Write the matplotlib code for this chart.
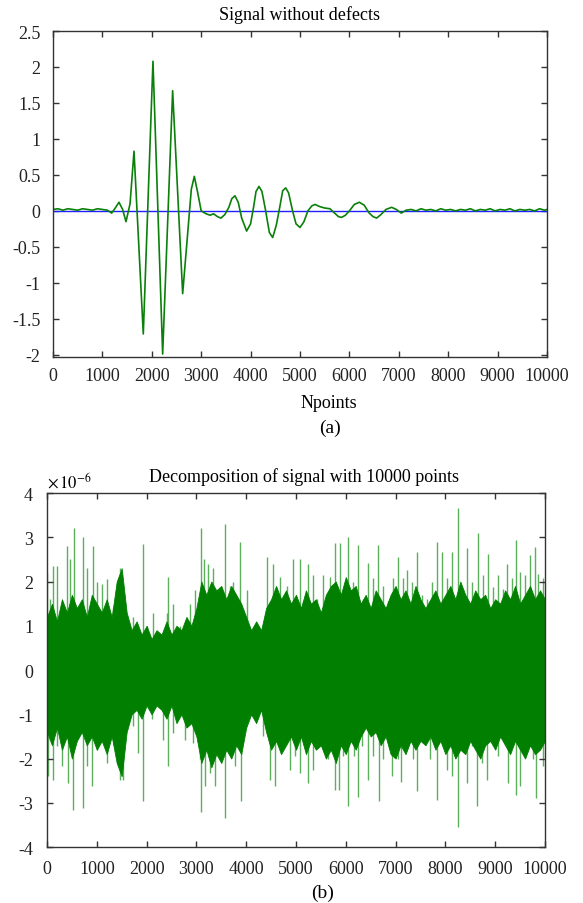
import matplotlib
matplotlib.use('Agg')
import matplotlib.pyplot as plt

plt.rcParams['font.family'] = ['Liberation Serif', 'DejaVu Serif']
plt.rcParams['mathtext.fontset'] = 'stix'
plt.rcParams['axes.unicode_minus'] = False

# (a) signal without defects
sig_x = [0, 100, 200, 300, 400, 500, 600, 700, 800, 900, 1000, 1100, 1188, 1260, 1336,
         1410, 1478, 1560, 1640, 1828, 2024, 2220, 2422, 2625, 2740, 2800, 2861, 2930,
         3000, 3100, 3180, 3250, 3330, 3400, 3480, 3560, 3620, 3684, 3750, 3820, 3920,
         4000, 4060, 4110, 4170, 4230, 4300, 4380, 4447, 4520, 4590, 4650, 4710, 4770,
         4850, 4920, 5000, 5080, 5160, 5240, 5304, 5400, 5500, 5607, 5700, 5780, 5843,
         5920, 6000, 6100, 6200, 6300, 6400, 6480, 6552, 6640, 6740, 6856, 6950, 7050,
         7150, 7250, 7350, 7450, 7550, 7650, 7750, 7850, 7950, 8050, 8150, 8250, 8350,
         8450, 8550, 8650, 8750, 8850, 8950, 9050, 9150, 9250, 9350, 9450, 9550, 9650,
         9750, 9850, 9950, 10000]
sig_y = [0.02, 0.03, 0.01, 0.03, 0.02, 0.01, 0.03, 0.02, 0.01, 0.03, 0.02, 0.01, -0.03, 0.04, 0.12,
         0.02, -0.15, 0.10, 0.83, -1.71, 2.08, -1.99, 1.67, -1.15, -0.20, 0.30, 0.48, 0.25,
         0.00, -0.04, -0.06, -0.04, -0.08, -0.10, -0.05, 0.05, 0.17, 0.21, 0.12, -0.10, -0.28,
         -0.18, 0.05, 0.27, 0.34, 0.27, 0.02, -0.30, -0.37, -0.20, 0.05, 0.28, 0.32, 0.25,
         0.00, -0.18, -0.23, -0.15, 0.00, 0.07, 0.09, 0.06, 0.04, 0.03, -0.03, -0.08, -0.09,
         -0.06, 0.00, 0.09, 0.12, 0.08, -0.03, -0.08, -0.10, -0.05, 0.02, 0.05, 0.02, -0.03,
         0.01, 0.02, 0.00, 0.03, 0.01, 0.02, 0.00, 0.03, 0.01, 0.02, 0.00, 0.02, 0.01,
         0.03, 0.00, 0.02, 0.01, 0.03, 0.00, 0.02, 0.01, 0.03, 0.00, 0.02, 0.01, 0.02,
         0.00, 0.03, 0.01, 0.02]

# (b) decomposition, values in units of 1e-6
core_x = list(range(0, 10001, 100))
core_hi = [1.2, 1.5, 1.1, 1.6, 1.3, 1.7, 1.4, 1.6, 1.2, 1.7,
           1.5, 1.3, 1.6, 1.2, 2.0, 2.3, 1.3, 0.9, 1.1, 0.8,
           1.0, 0.7, 0.9, 0.8, 1.1, 0.8, 1.0, 0.9, 1.2, 1.0,
           1.4, 2.0, 1.7, 2.0, 1.8, 1.9, 1.6, 1.9, 1.7, 1.5,
           1.2, 0.9, 1.1, 0.9, 1.4, 1.6, 1.9, 1.6, 1.8, 1.5,
           1.7, 1.4, 1.8, 1.5, 1.6, 1.3, 1.7, 1.9, 2.0, 1.7,
           2.1, 1.8, 1.9, 1.5, 1.7, 1.4, 1.8, 1.6, 1.4, 1.7,
           1.9, 1.6, 1.8, 1.5, 1.9, 1.6, 1.4, 1.6, 1.8, 1.5,
           1.7, 1.9, 1.6, 2.0, 1.7, 1.5, 1.8, 1.6, 1.7, 1.4,
           1.6, 1.5, 1.8, 1.6, 1.9, 1.5, 1.7, 1.9, 1.6, 1.8, 1.6]
core_lo = [-1.4, -1.7, -1.3, -1.8, -1.5, -2.0, -1.6, -1.4, -1.7, -1.5,
           -1.8, -1.6, -1.9, -1.5, -2.1, -2.4, -1.4, -1.0, -0.9, -1.1,
           -0.8, -1.0, -0.8, -0.9, -1.1, -0.8, -1.2, -1.0, -1.3, -1.2,
           -1.5, -2.1, -1.8, -2.2, -1.9, -2.1, -1.8, -2.0, -1.7, -1.9,
           -1.3, -1.0, -1.2, -0.9, -1.4, -1.8, -1.6, -1.9, -1.7, -1.5,
           -1.8, -1.5, -1.9, -1.6, -1.8, -1.7, -2.0, -1.8, -2.1, -1.7,
           -1.9, -1.6, -1.8, -1.5, -1.3, -1.5, -1.4, -1.7, -1.5, -1.9,
           -2.0, -1.7, -1.9, -1.6, -1.8, -1.6, -1.7, -1.5, -1.8, -1.6,
           -1.9, -1.7, -2.0, -1.8, -1.9, -1.6, -1.8, -2.0, -1.7, -1.6,
           -1.8, -1.5, -1.7, -1.9, -1.6, -1.8, -2.0, -1.7, -1.9, -1.8, -1.6]

up_x = [10, 60, 127, 207, 395, 462, 542, 629, 730, 810, 917, 997, 1098, 1198, 1332, 1466,
        1633, 1734, 1921, 2001, 2135, 2269, 2403, 2436, 2537, 2671, 2805, 2872, 2972, 3092,
        3153, 3240, 3340, 3407, 3574, 3675, 3742, 3876, 4010, 4143, 4277, 4411, 4545, 4679,
        4812, 4946, 5080, 5147, 5248, 5348, 5415, 5549, 5683, 5783, 5883, 5984, 6051, 6151,
        6252, 6352, 6452, 6553, 6653, 6754, 6854, 6954, 7055, 7155, 7222, 7323, 7423, 7523,
        7624, 7724, 7825, 7925, 8025, 8126, 8246, 8327, 8427, 8527, 8648, 8762, 8862, 8962,
        9063, 9150, 9230, 9331, 9418, 9498, 9598, 9699, 9799, 9866, 9966]
up_v = [2.2, 1.6, 2.35, 2.35, 2.8, 2.5, 3.2, 1.4, 3.0, 2.3, 2.8, 2.0, 1.95, 2.05, 1.4, 2.3,
        0.8, 1.2, 2.85, 1.0, 1.3, 0.7, 1.3, 2.1, 1.5, 1.0, 0.8, 1.5, 1.8, 3.2,
        2.5, 2.4, 2.3, 1.8, 3.3, 1.9, 2.0, 2.9, 1.8, 0.9, 0.85, 2.55, 2.4, 2.1,
        1.9, 2.5, 2.5, 1.55, 2.4, 2.15, 1.6, 2.15, 2.1, 2.86, 2.86, 1.9, 3.0, 2.0,
        2.83, 1.6, 2.43, 2.07, 2.83, 1.9, 1.55, 2.07, 2.56, 2.07, 2.26, 2.0, 2.67, 1.69,
        1.6, 2.0, 2.9, 2.67, 2.07, 2.67, 3.66, 1.77, 2.75, 2.0, 3.1, 2.15, 2.63, 1.88,
        2.15, 1.84, 2.4, 2.07, 2.94, 2.22, 2.15, 2.6, 2.79, 2.18, 2.07]

down_x = [13, 60, 127, 194, 295, 361, 428, 529, 629, 730, 810, 910, 997, 1098, 1198, 1298,
          1466, 1533, 1734, 1834, 1921, 2102, 2336, 2436, 2537, 2771, 2938, 3072, 3092, 3173,
          3273, 3373, 3474, 3574, 3675, 3775, 3889, 4009, 4344, 4478, 4578, 4679, 4879, 4980,
          5080, 5248, 5348, 5448, 5649, 5783, 5870, 5950, 6051, 6165, 6252, 6319, 6452, 6553,
          6660, 6754, 6921, 7055, 7102, 7189, 7356, 7423, 7691, 7791, 7838, 8025, 8126, 8246,
          8427, 8527, 8628, 8728, 8829, 9063, 9264, 9364, 9418, 9498, 9766, 9819, 9899, 9966]
down_v = [-2.4, -1.57, -2.48, -1.72, -2.17, -1.19, -2.55, -3.16, -1.49, -3.12, -2.17, -2.63, -1.8, -1.26, -2.1, -1.42,
          -2.48, -2.48, -1.26, -1.87, -2.97, -1.11, -1.57, -2.17, -1.42, -1.57, -1.64, -2.02, -3.2, -2.63,
          -2.33, -2.63, -2.02, -3.35, -1.8, -2.17, -2.97, -1.04, -1.49, -2.48, -2.63, -1.34, -2.25, -1.95,
          -2.33, -2.55, -2.25, -1.26, -2.02, -2.7, -2.7, -1.95, -3.08, -1.95, -2.86, -1.72, -2.48, -1.95,
          -2.97, -2.02, -2.4, -2.02, -2.52, -1.64, -2.02, -2.74, -2.02, -1.42, -2.93, -2.25, -2.4, -3.54,
          -2.55, -1.72, -3.08, -2.1, -2.48, -1.95, -2.55, -1.26, -2.82, -2.63, -2.02, -2.9, -1.72, -2.17]

xticks = list(range(0, 10001, 1000))
yticks_a = [-2, -1.5, -1, -0.5, 0, 0.5, 1, 1.5, 2, 2.5]
yticks_b = [-4, -3, -2, -1, 0, 1, 2, 3, 4]

fig = plt.figure(figsize=(5.83, 9.04), dpi=100)
fs = 13

def style(ax, pady, padx):
    for s in ax.spines.values():
        s.set_color('#333333')
        s.set_linewidth(1.0)
    ax.tick_params(direction='in', length=4, width=1, colors='#333333',
                   top=True, right=True, labelsize=fs, labelcolor='#222222')
    ax.tick_params(axis='y', pad=pady)
    ax.tick_params(axis='x', pad=padx)

# top panel
ax1 = fig.add_axes([0.0909, 0.6040, 0.8473, 0.3606])
ax1.axhline(0, color='#2020ff', lw=1.0)
ax1.plot(sig_x, sig_y, color='#0a800a', lw=1.2)
ax1.set_xlim(0, 10000)
ax1.set_ylim(-2.03, 2.5)
ax1.set_xticks(xticks)
ax1.set_yticks(yticks_a)
ax1.set_yticklabels(['-2', '-1.5', '-1', '-0.5', '0', '0.5', '1', '1.5', '2', '2.5'])
style(ax1, 9, 7)
fig.text(0.5137, 0.9834, 'Signal without defects', ha='center', va='center', fontsize=fs)
fig.text(0.5643, 0.5542, 'Npoints', ha='center', va='center', fontsize=fs)
fig.text(0.566, 0.5265, '(a)', ha='center', va='center', fontsize=fs + 1)

# bottom panel
ax2 = fig.add_axes([0.0806, 0.0619, 0.8542, 0.3916])
ax2.vlines(up_x, 0, up_v, color='#5cb05c', lw=1.0, zorder=1)
ax2.vlines(down_x, 0, down_v, color='#5cb05c', lw=1.0, zorder=1)
ax2.fill_between(core_x, core_lo, core_hi, color='#007f00', edgecolor='#007f00',
                 lw=0.6, zorder=2)
ax2.set_xlim(0, 10000)
ax2.set_ylim(-4, 4)
ax2.set_xticks(xticks)
ax2.set_yticks(yticks_b)
style(ax2, 10, 9)
fig.text(0.5214, 0.4723, 'Decomposition of signal with 10000 points', ha='center', va='center', fontsize=fs)
fig.text(0.081, 0.4668, r'$\times\,10^{-6}$', ha='left', va='center', fontsize=fs - 1)
fig.text(0.554, 0.0122, '(b)', ha='center', va='center', fontsize=fs + 1)

fig.savefig('out.png', dpi=100)
